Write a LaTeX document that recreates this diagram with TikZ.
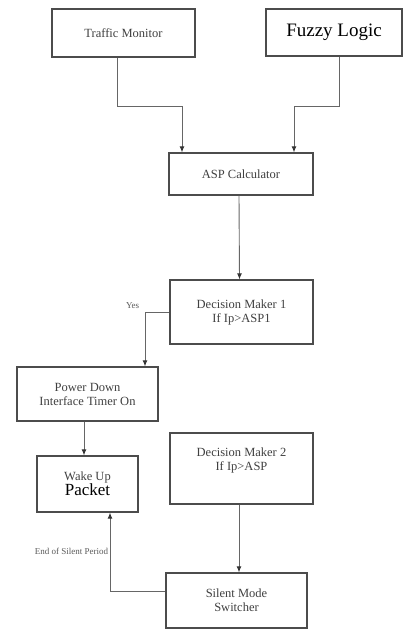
\documentclass[tikz,border=0pt]{standalone}
\usepackage{fontspec}
\setmainfont{Liberation Serif}
\usetikzlibrary{arrows.meta}
\tikzset{
    box/.style={draw=black!70, line width=1.3pt, rectangle, text=black!75, align=center, font=\fontsize{12.5}{14}\selectfont},
    arr/.style={draw=black!60, line width=0.9pt, -{Latex[length=6pt,width=5pt,black!80]}},
    lbl/.style={text=black!65, font=\fontsize{9}{10}\selectfont}
}
\begin{document}
\begin{tikzpicture}[x=1pt, y=-1pt]
        \useasboundingbox (0,0) rectangle (403,630);
        \node[box, minimum width=143pt, minimum height=48pt] (tm) at (123.5, 33) {Traffic Monitor};
        \node[box, minimum width=136pt, minimum height=47pt, text=black, font=\fontsize{19}{21}\selectfont] (fl) at (334, 32.5) {Fuzzy Logic};
        \node[box, minimum width=144pt, minimum height=42pt] (asp) at (241, 174) {ASP Calculator};
        \node[box, minimum width=143pt, minimum height=64pt] (dm1) at (241.5, 312) {Decision Maker 1\\If Ip>ASP1};
        \node[box, minimum width=141pt, minimum height=54pt] (pd) at (87.5, 394) {Power Down\\Interface Timer On};
        \node[box, minimum width=143pt, minimum height=71pt, text depth=18pt] (dm2) at (241.5, 468.5) {Decision Maker 2\\If Ip>ASP};
        \node[box, minimum width=101pt, minimum height=56pt] (wu) at (87.5, 484) {Wake Up\\{\fontsize{17}{19}\selectfont\color{black}Packet}};
        \node[box, minimum width=141pt, minimum height=55pt] (sm) at (236.5, 600.5) {Silent Mode\\Switcher};
        % joints of the two input lines
        \coordinate (j1) at (182, 106);
        \coordinate (j2) at (294, 106);
        \draw[arr] ([xshift=-6.5pt]tm.south) |- (j1) -- (j1 |- asp.north);
        \draw[arr] ([xshift=5pt]fl.south) |- (j2) -- (j2 |- asp.north);
        \draw[arr] ([xshift=-2pt]asp.south) -- ([xshift=-2pt]dm1.north);
        \draw[arr] (dm1.west) -| ([xshift=57.5pt]pd.north)
            node[lbl, pos=0.5, above left, xshift=-2pt] (yes) {Yes};
        \draw[arr] ([xshift=-3.5pt]pd.south) -- ([xshift=-3.5pt]wu.north);
        \draw[arr] ([xshift=-2.5pt]dm2.south) -- ([xshift=-2.5pt]dm2.south |- sm.north);
        \draw[arr] ([yshift=9.5pt]sm.west) -| ([xshift=22.5pt]wu.south)
            node[lbl, pos=0.75, left, xshift=2pt] (eos) {End of Silent Period};
    \end{tikzpicture}
\end{document}
